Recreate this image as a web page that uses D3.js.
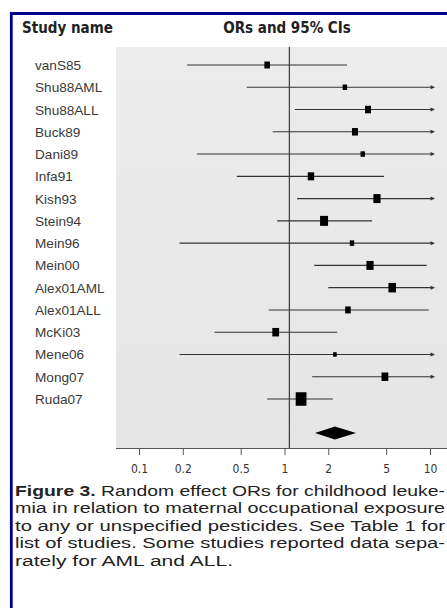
<!DOCTYPE html>
<html>
<head>
<meta charset="utf-8">
<script src="https://cdn.jsdelivr.net/npm/d3@7"></script>
<style>
  body { margin: 0; background: #fff; }
  svg { display: block; }
</style>
</head>
<body>
<svg></svg>
<script>
var width = 447;
var height = 608;

// ---------- data ----------
var studies = ["vanS85", "Shu88AML", "Shu88ALL", "Buck89", "Dani89", "Infa91", "Kish93", "Stein94",
               "Mein96", "Mein00", "Alex01AML", "Alex01ALL", "McKi03", "Mene06", "Mong07", "Ruda07"];
var or    = [0.76, 2.6, 3.75, 3.05, 3.45, 1.52, 4.32, 1.87, 2.91, 3.87, 5.5, 2.73, 0.87, 2.22, 4.9, 1.30];
var lower = [0.214, 0.55, 1.18, 0.83, 0.25, 0.47, 1.22, 0.89, 0.19, 1.6, 2.0, 0.78, 0.33, 0.19, 1.55, 0.76];
// null = upper limit beyond the axis (arrow)
var upper = [2.69, null, null, null, null, 4.83, null, 4.0, null, 9.5, null, 9.8, 2.3, null, null, 2.15];
var weight = [4, 2.5, 4.6, 4.6, 2.5, 5.3, 6.6, 8.2, 2.5, 6.6, 7.4, 4, 5.9, 1.7, 5.9, 15];
var summary = {or: 2.22, lower: 1.62, upper: 3.1};
var refLine = 1.08;
var ticks = [0.1, 0.2, 0.5, 1, 2, 5, 10];
var captionLines = [
  ["Figure 3.", " Random effect ORs for childhood leuke-"],
  ["", "mia in relation to maternal occupational exposure"],
  ["", "to any or unspecified pesticides. See Table 1 for"],
  ["", "list of studies. Some studies reported data sepa-"],
  ["", "rately for AML and ALL."]
];

var narrow = "'Liberation Sans Narrow', 'DejaVu Sans Condensed', 'Arial Narrow', sans-serif";
var plain = "'Liberation Sans', Arial, sans-serif";

var svg = d3.select("svg")
            .attr("width", width)
            .attr("height", height)

// frame (only top & left visible)
svg.append("line").attr("x1", 11.3).attr("x2", 11.3).attr("y1", 12).attr("y2", height)
    .attr("stroke", "#00008a").attr("stroke-width", 2.8)
svg.append("line").attr("x1", 10).attr("x2", width).attr("y1", 13.5).attr("y2", 13.5)
    .attr("stroke", "#00008a").attr("stroke-width", 2.8)

var x = d3.scaleLog().domain([0.1, 10]).range([139, 430]);
var y = d3.scalePoint().domain(studies).range([65, 399]);
var size = d3.scaleSqrt().domain([0, 15]).range([0, 13.5]);
var xMax = 10.83;   // where the arrows end
var plotTop = 47, plotBottom = 448, plotLeft = 116;
var diamondY = 433;

// plot background
var grad = svg.append("defs").append("linearGradient")
    .attr("id", "bg").attr("x1", 0).attr("x2", 0).attr("y1", 0).attr("y2", 1)
grad.append("stop").attr("offset", "0").attr("stop-color", "#ececec")
grad.append("stop").attr("offset", "1").attr("stop-color", "#e5e5e5")
svg.append("rect")
    .attr("x", plotLeft).attr("y", plotTop)
    .attr("width", width - plotLeft).attr("height", plotBottom - plotTop)
    .attr("fill", "url(#bg)")

// headers
svg.append("text").attr("x", 22).attr("y", 33)
    .attr("font-family", narrow).attr("font-weight", "bold").attr("font-size", 15)
    .attr("fill", "#222").text("Study name")
svg.append("text").attr("x", 287).attr("y", 33).attr("text-anchor", "middle")
    .attr("font-family", narrow).attr("font-weight", "bold").attr("font-size", 15)
    .attr("fill", "#222").text("ORs and 95% CIs")

// null line
svg.append("line")
    .attr("x1", x(refLine)).attr("x2", x(refLine))
    .attr("y1", plotTop).attr("y2", plotBottom)
    .attr("stroke", "#3a3a3a").attr("stroke-width", 1.2)

// axis
var axis = d3.axisBottom(x).tickValues(ticks).tickFormat(d3.format("")).tickSize(7).tickSizeOuter(0);
var gAxis = svg.append("g").attr("transform", "translate(0," + plotBottom + ")").call(axis);
gAxis.select(".domain").attr("d", "M" + plotLeft + ",0.5H" + width).attr("stroke", "#555")
gAxis.selectAll(".tick line").attr("stroke", "#555")
gAxis.selectAll(".tick text")
    .attr("font-family", narrow).attr("font-size", 12).attr("fill", "#333").attr("y", 16)

// rows
var rows = studies.map(function(s, i) {
    return {name: s, or: or[i], lower: lower[i], upper: upper[i], w: weight[i]};
});

svg.selectAll(".label").data(rows).enter().append("text")
    .attr("class", "label")
    .attr("x", 35).attr("y", function(d) { return y(d.name) + 5; })
    .attr("font-family", plain).attr("font-size", 13.6).attr("fill", "#3a3a3a")
    .text(function(d) { return d.name; })

svg.selectAll(".ci").data(rows).enter().append("line")
    .attr("class", "ci")
    .attr("x1", function(d) { return x(d.lower); })
    .attr("x2", function(d) { return x(d.upper == null ? xMax : d.upper) - (d.upper == null ? 3 : 0); })
    .attr("y1", function(d) { return y(d.name); })
    .attr("y2", function(d) { return y(d.name); })
    .attr("stroke", "#333").attr("stroke-width", 1.1)

svg.selectAll(".arrow").data(rows.filter(function(d) { return d.upper == null; })).enter().append("path")
    .attr("class", "arrow")
    .attr("d", function(d) {
        var ax = x(xMax), ay = y(d.name);
        return "M" + ax + "," + ay + "L" + (ax - 4.5) + "," + (ay - 2) + "L" + (ax - 4.5) + "," + (ay + 2) + "Z";
    })
    .attr("fill", "#333")

svg.selectAll(".box").data(rows).enter().append("rect")
    .attr("class", "box")
    .attr("x", function(d) { return x(d.or) - size(d.w) * 0.4; })
    .attr("y", function(d) { return y(d.name) - size(d.w) / 2; })
    .attr("width", function(d) { return size(d.w) * 0.8; })
    .attr("height", function(d) { return size(d.w); })
    .attr("fill", "#000")

// summary diamond
svg.append("path")
    .attr("d", "M" + x(summary.lower) + "," + diamondY +
               "L" + x(summary.or) + "," + (diamondY - 6.5) +
               "L" + x(summary.upper) + "," + diamondY +
               "L" + x(summary.or) + "," + (diamondY + 6.5) + "Z")
    .attr("fill", "#000")

// caption
var capY = [495.5, 513, 530.5, 548, 565.5];
captionLines.forEach(function(line, i) {
    var t = svg.append("text")
        .attr("x", 15).attr("y", capY[i])
        .attr("font-family", plain).attr("font-size", 15.5)
        .attr("fill", "#222")
    if (i < 4) t.attr("textLength", 430).attr("lengthAdjust", "spacingAndGlyphs");
    else t.attr("textLength", 218).attr("lengthAdjust", "spacingAndGlyphs");
    if (line[0]) t.append("tspan").attr("font-weight", "bold").text(line[0]);
    t.append("tspan").text(line[1]);
});
</script>
</body>
</html>
